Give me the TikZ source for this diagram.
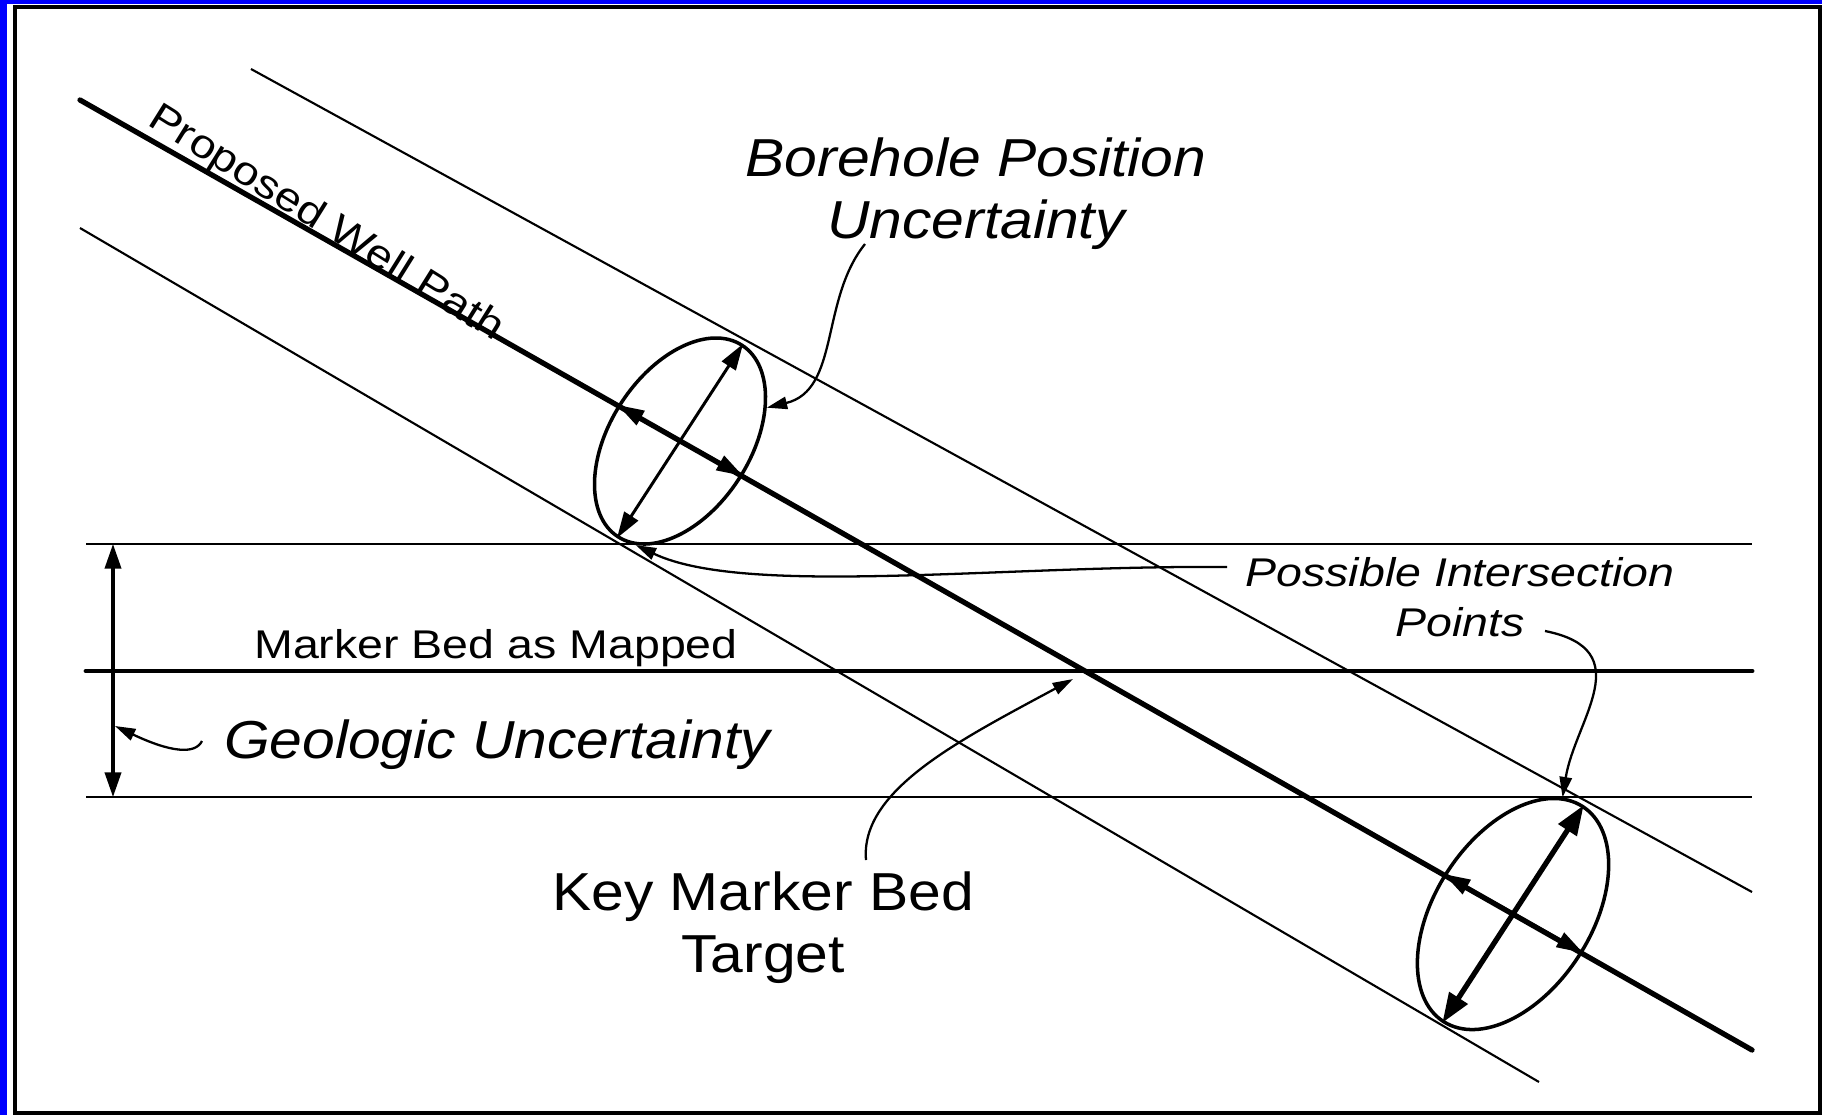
\documentclass[tikz,border=0pt]{standalone}
\usepackage{fontspec}
\usetikzlibrary{arrows.meta,shapes.geometric}
\newfontfamily\lblbig[FakeStretch=1.1]{Liberation Sans}
\newfontfamily\lblsmall[FakeStretch=1.16]{Liberation Sans}

\begin{document}
\begin{tikzpicture}[
    x=0.01cm, y=-0.01cm,
    >={Triangle[length=7.5pt, width=4.6pt]},
    hair/.style    = {line width=0.6pt},
    heavy/.style   = {line width=1.5pt, line cap=round},
    bed/.style     = {line width=1.4pt, line cap=round},
    ellip/.style   = {draw, ellipse, line width=1pt, inner sep=0pt, rotate=57},
    dim/.style     = {<->, line width=0.85pt},
    leader/.style  = {->, line width=0.65pt, >={Triangle[length=5.8pt, width=3.5pt]}},
    big/.style     = {font=\lblbig\fontsize{15.2}{17.7}\selectfont, inner sep=0pt, align=center},
    bigit/.style   = {big, font=\lblbig\fontsize{15.2}{17.7}\selectfont\itshape},
    small/.style   = {font=\lblsmall\fontsize{11.4}{14.2}\selectfont, inner sep=0pt, align=center},
    smallit/.style = {small, font=\lblsmall\fontsize{11.4}{14.2}\selectfont\itshape}
]
\useasboundingbox (0,0) rectangle (1822,1115);

% Sheet: blue edge and black frame
\fill[blue] (0,0) rectangle (7,1115);
\fill[blue] (0,0) rectangle (1822,4);
\draw[line width=1.1pt] (15,7) rectangle (1820,1113);

% Well path and its uncertainty envelope
\coordinate (wellA) at (80,100);
\coordinate (wellB) at (1752,1050);
\coordinate (upA)   at (251,69);
\coordinate (upB)   at (1752,892);
\coordinate (loA)   at (80,228);
\coordinate (loB)   at (1539,1082);
\draw[heavy] (wellA) -- (wellB);
\draw[hair] (upA) -- (upB);
\draw[hair] (loA) -- (loB);

% Marker bed and geologic band
\coordinate (bedA) at (86,671);
\coordinate (bedB) at (1752,671);
\draw[bed] (bedA) -- (bedB);
\foreach \y/\nm in {544/ceil, 797/floor} {
    \coordinate (\nm A) at (86,\y);
    \coordinate (\nm B) at (1752,\y);
    \draw[hair] (\nm A) -- (\nm B);
}
\coordinate (gA) at (113,544);
\coordinate (gB) at (113,797);
\draw[<->, line width=0.9pt, >={Triangle[length=7pt, width=4.6pt]}] (gA) -- (gB);

% Position uncertainty ellipses
\node[ellip, minimum width=2.28cm, minimum height=1.40cm] (Etop) at (680,441) {};
\node[ellip, minimum width=2.56cm, minimum height=1.56cm] (Ebot) at (1513,914) {};
\draw[dim] (Etop.west) -- (Etop.east);
\draw[dim] (Etop.93.4) -- (Etop.-86.6);
\draw[dim, line width=1.5pt, >={Triangle[length=8.5pt, width=6pt]}] (Ebot.west) -- (Ebot.east);
\draw[dim] (Ebot.93.4) -- (Ebot.-86.6);

% Labels
\node[bigit, anchor=north] (bpu) at (976,137) {Borehole Position\\Uncertainty};
\node[smallit, anchor=north] (pip) at (1460,557) {Possible Intersection\\Points};
\node[big, anchor=north] (kmb) at (763,871) {Key Marker Bed\\Target};
\node[small, anchor=base] (mbm) at (496,658) {Marker Bed as Mapped};
\node[bigit, anchor=base] (geo) at (497,758) {Geologic Uncertainty};
\node[small, anchor=base west, rotate=-32] (pwp) at (146,124) {Proposed Well Path};

% Leaders
\coordinate (bpuT) at (865,244);
\coordinate (pipT) at (1227,567);
\coordinate (ptsT) at (1545,631);
\coordinate (kmbT) at (866,860);
\coordinate (geoT) at (202,741);
\coordinate (hit)  at (1073,679);
\coordinate (gTip) at (115,726);
\draw[leader] (bpuT) .. controls (820,300) and (840,390) .. (Etop.-36);
\draw[leader] (pipT) .. controls (1000,565) and (745,597) .. (Etop.-170);
\draw[leader] (ptsT) .. controls (1640,650) and (1575,720) .. (Ebot.10);
\draw[leader] (kmbT) .. controls (860,790) and (960,740) .. (hit);
\draw[leader] (geoT) .. controls (195,755) and (170,752) .. (gTip);

\end{tikzpicture}
\end{document}
